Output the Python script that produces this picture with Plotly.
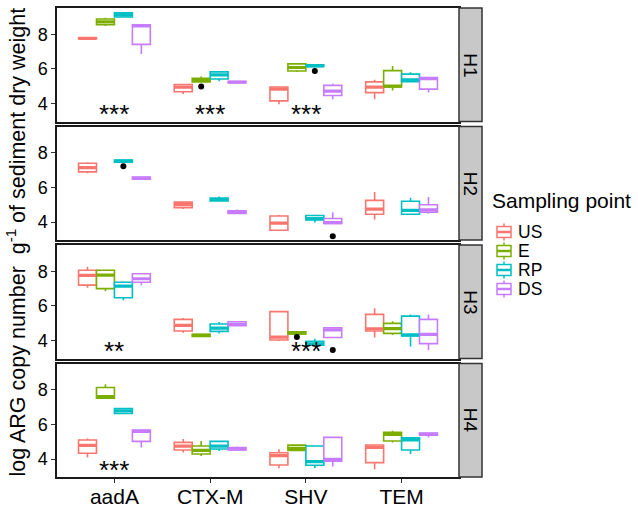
import plotly.graph_objects as go
from plotly.subplots import make_subplots

genes = ["aadA", "CTX-M", "SHV", "TEM"]
groups = ["US", "E", "RP", "DS"]
panels = ["H1", "H2", "H3", "H4"]
group_colors = ["#F8766D", "#7CAE00", "#00BFC4", "#C77CFF"]

# rows = genes (aadA, CTX-M, SHV, TEM); columns = lower whisker, Q1, median, Q3, upper whisker
H1_US = [[7.74, 7.75, 7.77, 7.80, 7.82], [4.55, 4.68, 4.95, 5.10, 5.10], [3.96, 4.15, 4.83, 4.95, 4.95], [4.25, 4.63, 4.95, 5.25, 5.37]]
H1_E = [[8.48, 8.55, 8.72, 8.88, 8.96], [5.23, 5.25, 5.37, 5.45, 5.56], [5.82, 5.88, 6.08, 6.29, 6.30], [4.75, 4.95, 5.00, 5.90, 6.17]]
H1_RP = [[8.98, 9.00, 9.12, 9.24, 9.26], [5.28, 5.42, 5.65, 5.83, 5.85], [6.12, 6.14, 6.18, 6.24, 6.26], [5.25, 5.26, 5.37, 5.70, 5.80]]
H1_DS = [[6.86, 7.42, 8.48, 8.55, 8.55], [5.18, 5.20, 5.23, 5.27, 5.28], [4.25, 4.46, 4.72, 5.05, 5.14], [4.63, 4.83, 5.44, 5.50, 5.52]]

H2_US = [[6.82, 6.90, 7.14, 7.40, 7.46], [4.75, 4.83, 5.00, 5.15, 5.18], [3.52, 3.52, 3.94, 4.35, 4.40], [4.14, 4.45, 4.75, 5.25, 5.73]]
H2_RP = [[7.40, 7.45, 7.52, 7.58, 7.60], [5.20, 5.22, 5.30, 5.38, 5.48], [3.97, 4.12, 4.20, 4.38, 4.40], [4.44, 4.45, 4.67, 5.20, 5.40]]
H2_DS = [[6.45, 6.48, 6.53, 6.60, 6.62], [4.45, 4.50, 4.58, 4.65, 4.72], [3.90, 3.92, 3.97, 4.20, 4.56], [4.48, 4.57, 4.70, 5.00, 5.44]]

H3_US = [[7.05, 7.20, 7.76, 8.06, 8.26], [4.45, 4.55, 4.88, 5.22, 5.30], [3.97, 4.03, 4.20, 5.67, 5.67], [4.17, 4.55, 4.68, 5.51, 5.86]]
H3_E = [[6.85, 7.00, 7.78, 8.06, 8.08], [4.22, 4.24, 4.30, 4.36, 4.38], [4.36, 4.38, 4.43, 4.50, 4.53], [4.32, 4.41, 4.69, 4.99, 5.12]]
H3_RP = [[6.32, 6.47, 7.14, 7.37, 7.43], [4.41, 4.53, 4.72, 4.95, 5.07], [3.72, 3.73, 3.80, 3.95, 4.10], [3.65, 4.26, 4.32, 5.41, 5.51]]
H3_DS = [[7.20, 7.37, 7.57, 7.86, 7.88], [4.82, 4.85, 4.93, 5.08, 5.12], [4.17, 4.17, 4.62, 4.74, 4.76], [3.44, 3.82, 4.36, 5.22, 5.51]]

H4_US = [[4.08, 4.33, 4.79, 5.10, 5.19], [4.38, 4.52, 4.75, 4.96, 5.15], [3.46, 3.65, 4.20, 4.36, 4.56], [3.41, 3.79, 4.67, 4.81, 4.81]]
H4_E = [[7.52, 7.52, 7.60, 8.13, 8.32], [4.17, 4.29, 4.50, 4.75, 5.04], [4.48, 4.50, 4.62, 4.80, 4.82], [4.96, 5.04, 5.42, 5.54, 5.63]]
H4_RP = [[6.58, 6.63, 6.78, 6.92, 6.94], [4.46, 4.58, 4.75, 5.02, 5.03], [3.46, 3.64, 3.85, 4.75, 4.75], [4.29, 4.52, 5.10, 5.22, 5.25]]
H4_DS = [[4.67, 5.02, 5.60, 5.67, 5.67], [4.52, 4.53, 4.58, 4.66, 4.72], [3.56, 3.88, 3.98, 5.25, 5.25], [5.25, 5.37, 5.42, 5.50, 5.52]]

# outlier points: (panel, group, gene, value)
outliers = [
    ("H1", "E", "CTX-M", 4.98),
    ("H1", "RP", "SHV", 5.88),
    ("H2", "RP", "aadA", 7.22),
    ("H2", "DS", "SHV", 3.18),
    ("H3", "E", "SHV", 4.20),
    ("H3", "DS", "SHV", 3.45),
]

# significance labels: (panel, gene, label)
signif = [
    ("H1", "aadA", "***"), ("H1", "CTX-M", "***"), ("H1", "SHV", "***"),
    ("H3", "aadA", "**"), ("H3", "SHV", "***"),
    ("H4", "aadA", "***"),
]
signif_y = 3.5

panel_data = {
    "H1": {"US": H1_US, "E": H1_E, "RP": H1_RP, "DS": H1_DS},
    "H2": {"US": H2_US, "RP": H2_RP, "DS": H2_DS},
    "H3": {"US": H3_US, "E": H3_E, "RP": H3_RP, "DS": H3_DS},
    "H4": {"US": H4_US, "E": H4_E, "RP": H4_RP, "DS": H4_DS},
}

W, H = 638, 508
ml, mr, mt, mb = 57, 179, 8, 31
pw = W - ml - mr
ph = H - mt - mb
FONT = "Liberation Sans, Arial, sans-serif"


def px_x(p):
    return (p - ml) / pw


def px_y(p):
    return (H - mb - p) / ph


fig = make_subplots(rows=4, cols=1, shared_xaxes=True, vertical_spacing=5.0 / ph)

for r, pn in enumerate(panels, start=1):
    present = [(g, c) for g, c in zip(groups, group_colors) if g in panel_data[pn]]
    for g, col in present:
        st = panel_data[pn][g]
        fig.add_trace(go.Box(
            x=genes,
            lowerfence=[s[0] for s in st],
            q1=[s[1] for s in st],
            median=[s[2] for s in st],
            q3=[s[3] for s in st],
            upperfence=[s[4] for s in st],
            name=g, legendgroup=g, showlegend=False,
            offsetgroup=g,
            line=dict(color=col, width=1.6),
            fillcolor="white",
            whiskerwidth=0,
            boxpoints=False,
            hoverinfo="skip",
        ), row=r, col=1)
    # thicker median bars (as in ggplot)
    for g, col in present:
        st = panel_data[pn][g]
        med = [s[2] for s in st]
        fig.add_trace(go.Box(
            x=genes, lowerfence=med, q1=med, median=med, q3=med, upperfence=med,
            name=g, legendgroup=g, showlegend=False, offsetgroup=g,
            line=dict(color=col, width=3.2), fillcolor="rgba(0,0,0,0)",
            whiskerwidth=0, boxpoints=False, hoverinfo="skip",
        ), row=r, col=1)
    # outliers, dodged the same way as the boxes
    for g, col in present:
        vals = []
        for gene in genes:
            found = [o[3] for o in outliers if o[0] == pn and o[1] == g and o[2] == gene]
            vals.append(found[0] if found else None)
        fig.add_trace(go.Scatter(
            x=genes, y=vals, mode="markers", offsetgroup=g,
            marker=dict(color="black", size=6, symbol="circle"),
            showlegend=False, legendgroup=g, hoverinfo="skip",
        ), row=r, col=1)

    sfx = "" if r == 1 else str(r)
    fig.add_shape(type="rect", xref="paper", yref=f"y{sfx} domain",
                  x0=1.0, x1=px_x(482), y0=0, y1=1,
                  fillcolor="#C8C8C8", line=dict(color="#333333", width=1.5), layer="above")
    fig.add_annotation(xref="paper", yref=f"y{sfx} domain", x=px_x(470.5), y=0.5,
                       xanchor="center", yanchor="middle",
                       text=pn, textangle=90, showarrow=False,
                       font=dict(family=FONT, size=19, color="black"))

for pn, gene, lab in signif:
    r = panels.index(pn) + 1
    sfx = "" if r == 1 else str(r)
    fig.add_annotation(xref=f"x{sfx}", yref=f"y{sfx}", x=gene, y=signif_y, text=lab,
                       showarrow=False, yshift=-2,
                       font=dict(family=FONT, size=26, color="black"))

fig.add_annotation(xref="paper", yref="paper", x=px_x(15), y=0.5, xanchor="center", yanchor="middle",
                   text="log ARG copy number  g<sup>-1</sup> of sediment dry weight", textangle=-90,
                   showarrow=False, font=dict(family=FONT, size=21.5, color="black"))

# legend (ggplot-style, drawn as shapes + text)
fig.add_annotation(xref="paper", yref="paper", x=px_x(490), y=px_y(200), xanchor="left", yanchor="middle",
                   text="Sampling point", showarrow=False, font=dict(family=FONT, size=21, color="black"))
for i, (g, col) in enumerate(zip(groups, group_colors)):
    cy = 232 + i * 19
    ln = dict(color=col, width=1.5)
    fig.add_shape(type="rect", xref="paper", yref="paper", x0=px_x(497), x1=px_x(511),
                  y0=px_y(cy + 5.5), y1=px_y(cy - 5.5), line=ln, fillcolor="white")
    fig.add_shape(type="line", xref="paper", yref="paper", x0=px_x(497), x1=px_x(511),
                  y0=px_y(cy), y1=px_y(cy), line=dict(color=col, width=2.5))
    fig.add_shape(type="line", xref="paper", yref="paper", x0=px_x(504), x1=px_x(504),
                  y0=px_y(cy - 5.5), y1=px_y(cy - 8.5), line=ln)
    fig.add_shape(type="line", xref="paper", yref="paper", x0=px_x(504), x1=px_x(504),
                  y0=px_y(cy + 5.5), y1=px_y(cy + 8.5), line=ln)
    fig.add_annotation(xref="paper", yref="paper", x=px_x(516), y=px_y(cy), xanchor="left", yanchor="middle",
                       text=g, showarrow=False, height=18,
                       font=dict(family=FONT, size=17.5, color="black"))

for r in range(1, 5):
    fig.update_yaxes(range=[2.96, 9.52], tickvals=[4, 6, 8], ticks="outside", ticklen=4,
                     tickcolor="#333333", tickwidth=1.2, showline=True, mirror=True,
                     linecolor="#1a1a1a", linewidth=1.5, showgrid=False, zeroline=False,
                     automargin=False,
                     tickfont=dict(family=FONT, size=18, color="black"), row=r, col=1)
    fig.update_xaxes(range=[-0.6, 3.6], showline=True, mirror=True, linecolor="#1a1a1a",
                     linewidth=1.5, showgrid=False, zeroline=False, automargin=False,
                     ticks="outside" if r == 4 else "", ticklen=4, tickcolor="#333333", tickwidth=1.2,
                     showticklabels=(r == 4), ticklabelstandoff=-4,
                     tickfont=dict(family=FONT, size=21, color="black"), row=r, col=1)

fig.update_layout(
    width=W, height=H,
    margin=dict(l=ml, r=mr, t=mt, b=mb, pad=0, autoexpand=False),
    paper_bgcolor="white", plot_bgcolor="white",
    boxmode="group", boxgap=0.25, boxgroupgap=0.0,
    scattermode="group", scattergap=0.25,
    font=dict(family=FONT, color="black"),
    showlegend=False,
)

fig.write_html("out.html", config={"displayModeBar": False},
               post_script="document.body.style.margin='0px';")
